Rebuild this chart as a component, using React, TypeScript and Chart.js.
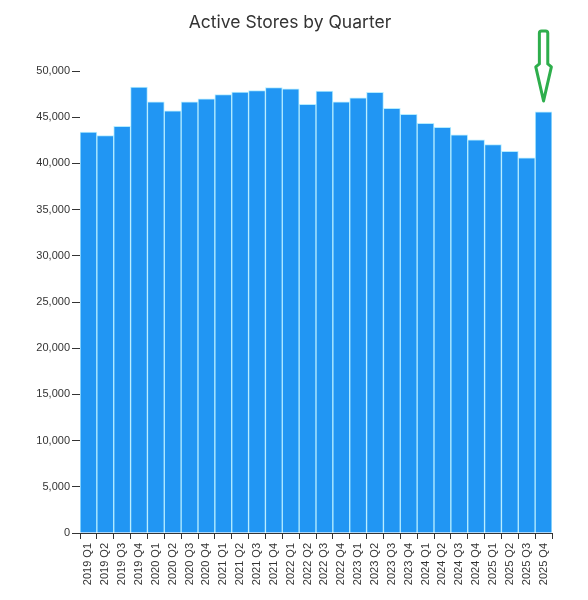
import React, { useEffect, useRef } from "react";
import { Chart, registerables } from "chart.js";

Chart.register(...registerables);

const quarters: string[] = [
  "2019 Q1", "2019 Q2", "2019 Q3", "2019 Q4",
  "2020 Q1", "2020 Q2", "2020 Q3", "2020 Q4",
  "2021 Q1", "2021 Q2", "2021 Q3", "2021 Q4",
  "2022 Q1", "2022 Q2", "2022 Q3", "2022 Q4",
  "2023 Q1", "2023 Q2", "2023 Q3", "2023 Q4",
  "2024 Q1", "2024 Q2", "2024 Q3", "2024 Q4",
  "2025 Q1", "2025 Q2", "2025 Q3", "2025 Q4",
];

const activeStores: number[] = [
  43400, 43000, 44000, 48250,
  46650, 45700, 46650, 47000,
  47450, 47730, 47870, 48200,
  48060, 46400, 47840, 46650,
  47100, 47700, 45970, 45300,
  44350, 43900, 43100, 42550,
  42040, 41300, 40600, 45570,
];

const yTickValues: number[] = [0, 5000, 10000, 15000, 20000, 25000, 30000, 35000, 40000, 45000, 50000];

const TITLE = "Active Stores by Quarter";
const highlightIndex = activeStores.length - 1;

const arrowPlugin = {
  id: "arrowAnnotation",
  afterDraw(chart: any) {
    const xs = chart.scales.x;
    const ys = chart.scales.y;
    const cx = xs.getPixelForValue(highlightIndex);
    const tip = ys.getPixelForValue(activeStores[highlightIndex]) - 11;
    const top = tip - 70;
    const neck = tip - 37;
    const ctx = chart.ctx as CanvasRenderingContext2D;
    ctx.save();
    ctx.beginPath();
    ctx.moveTo(cx - 4.2, top + 2);
    ctx.quadraticCurveTo(cx - 4.2, top, cx - 2, top);
    ctx.lineTo(cx + 2, top);
    ctx.quadraticCurveTo(cx + 4.2, top, cx + 4.2, top + 2);
    ctx.lineTo(cx + 4.2, neck);
    ctx.lineTo(cx + 7.8, neck + 3);
    ctx.lineTo(cx, tip);
    ctx.lineTo(cx - 7.8, neck + 3);
    ctx.lineTo(cx - 4.2, neck);
    ctx.closePath();
    ctx.fillStyle = "#ffffff";
    ctx.fill();
    ctx.lineWidth = 3;
    ctx.lineJoin = "round";
    ctx.strokeStyle = "#2eae4c";
    ctx.stroke();
    ctx.restore();
  },
};

export default function App() {
  const canvasRef = useRef<HTMLCanvasElement | null>(null);

  useEffect(() => {
    if (!canvasRef.current) return;
    const chart = new Chart(canvasRef.current, {
      type: "bar",
      data: {
        labels: quarters,
        datasets: [
          {
            label: "Active Stores",
            data: activeStores,
            backgroundColor: "#2196f3",
            borderColor: "#b4ecff",
            borderWidth: 1,
            categoryPercentage: 1,
            barPercentage: 1,
          },
        ],
      },
      options: {
        animation: false,
        responsive: true,
        maintainAspectRatio: false,
        layout: { padding: { left: 0, right: 8, top: 0, bottom: 7 } },
        plugins: {
          legend: { display: false },
          tooltip: { enabled: false },
          title: {
            display: true,
            text: TITLE,
            color: "#333333",
            font: { family: "Inter", size: 17.5, weight: "normal", lineHeight: 1.2 },
            padding: { top: 12.5, bottom: 37.5 },
          },
        },
        scales: {
          x: {
            grid: {
              display: true,
              drawOnChartArea: false,
              drawTicks: true,
              tickLength: 6,
              color: "#333333",
            },
            border: { display: true, color: "#333333", width: 1 },
            ticks: {
              color: "#333333",
              font: { family: "Liberation Sans", size: 11 },
              maxRotation: 90,
              minRotation: 90,
              autoSkip: false,
              padding: 4,
            },
            afterFit(scale: any) {
              scale.height = 60;
            },
          },
          y: {
            min: 0,
            max: 50000,
            grid: {
              display: true,
              drawOnChartArea: false,
              drawTicks: true,
              tickLength: 8,
              color: "#333333",
            },
            border: { display: false },
            afterBuildTicks(scale: any) {
              scale.ticks = yTickValues.map((v) => ({ value: v }));
            },
            ticks: {
              color: "#333333",
              font: { family: "Liberation Sans", size: 11 },
              padding: 2,
              callback: (v: any) => Number(v).toLocaleString("en-US"),
            },
            afterFit(scale: any) {
              scale.width = 80;
            },
          },
          spacer: {
            type: "linear",
            position: "right",
            display: true,
            grid: { display: false },
            border: { display: false },
            ticks: { display: false },
            afterFit(scale: any) {
              scale.width = 28;
            },
          },
        },
      },
      plugins: [arrowPlugin],
    });
    return () => chart.destroy();
  }, []);

  return (
    <div
      style={{
        position: "absolute",
        left: 0,
        top: 0,
        width: 588,
        height: 600,
        background: "#ffffff",
      }}
    >
      <canvas ref={canvasRef} />
    </div>
  );
}
